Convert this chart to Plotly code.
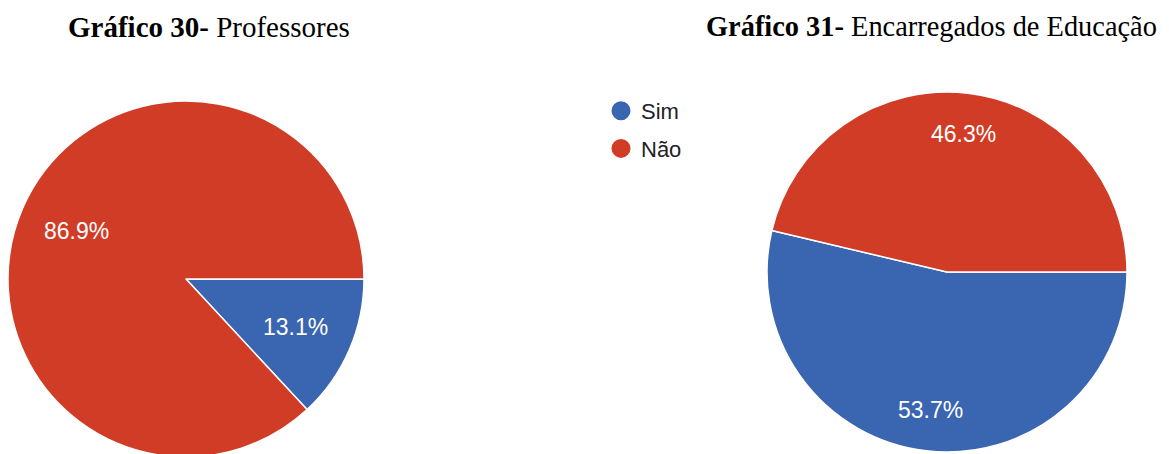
import numpy as np
import plotly.graph_objects as go

# data
labels = ['Sim', 'Não']
prof_vals = [13.1, 86.9]
enc_vals = [53.7, 46.3]
titles = ['<b>Gráfico 30-</b> Professores', '<b>Gráfico 31-</b> Encarregados de Educação']
colors = ['#3a65b0', '#d13c27']

W, H = 1169, 454
OFF = 8  # page body margin, positions below are given in screen pixels

# pie geometry (cx, cy from top, radius, label radius fraction)
pies = [
    dict(vals=prof_vals, cx=186, cy=279, r=178, lr=0.67),
    dict(vals=enc_vals, cx=947, cy=272, r=180, lr=0.77),
]


def px(x):
    return (x - OFF) / W


def py(y):
    return 1 - (y - OFF) / H


fig = go.Figure()
annots = []
for p in pies:
    x0, x1 = px(p['cx'] - p['r']), px(p['cx'] + p['r'])
    y0, y1 = py(p['cy'] + p['r']), py(p['cy'] - p['r'])
    fig.add_trace(go.Pie(
        labels=labels, values=p['vals'], sort=False,
        direction='clockwise', rotation=90,
        marker=dict(colors=colors, line=dict(color='white', width=1.5)),
        textinfo='none', hoverinfo='label+percent',
        domain=dict(x=[max(x0, 0), min(x1, 1)], y=[max(y0, 0), min(y1, 1)]),
        showlegend=False,
    ))
    # percentage labels at the middle angle of each slice
    tot = sum(p['vals'])
    cum = 0
    for v in p['vals']:
        theta = np.radians(-(360 * (cum + v / 2) / tot))
        lx = p['cx'] + p['lr'] * p['r'] * np.cos(theta)
        ly = p['cy'] - p['lr'] * p['r'] * np.sin(theta)
        annots.append(dict(
            x=px(lx), y=py(ly), xref='paper', yref='paper',
            xanchor='center', yanchor='middle',
            text=f'{v:.1f}%', showarrow=False,
            font=dict(family='Liberation Sans, Arial', size=23, color='white'),
        ))
        cum += v

# legend via dummy circle markers
for lab, col in zip(labels, colors):
    fig.add_trace(go.Scatter(x=[None], y=[None], mode='markers', name=lab, legendgroup=lab,
                             marker=dict(symbol='circle', size=16, color=col,
                                         line=dict(color=col, width=3))))

for tx, t, fs in zip([66, 704], titles, [29, 28.4]):
    annots.append(dict(x=px(tx), y=py(27), xref='paper', yref='paper',
                       xanchor='left', yanchor='middle',
                       text=t, showarrow=False,
                       font=dict(family='Liberation Serif, Times New Roman', size=fs, color='black')))

fig.update_layout(
    width=W, height=H,
    margin=dict(l=0, r=0, t=0, b=0),
    paper_bgcolor='white', plot_bgcolor='white',
    xaxis=dict(visible=False), yaxis=dict(visible=False),
    legend=dict(x=px(601), y=py(90), xanchor='left', yanchor='top',
                font=dict(family='Liberation Sans, Arial', size=22, color='#222222'),
                traceorder='grouped', tracegroupgap=6),
    annotations=annots,
)

fig.write_html('out.html')
